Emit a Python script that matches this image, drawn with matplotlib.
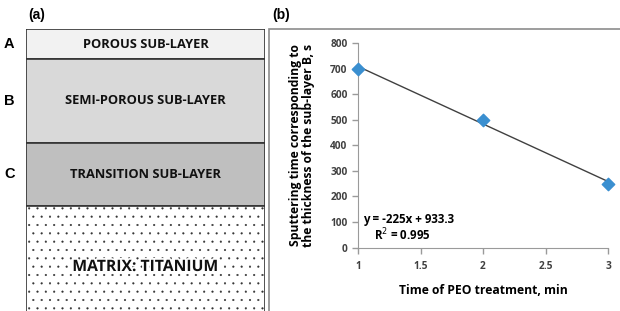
import numpy as np
import matplotlib
matplotlib.use("Agg")
import matplotlib.pyplot as plt
import matplotlib.patheffects as pe
from matplotlib.patches import Rectangle

# panel (a): layer stack, depth in arbitrary units (top = 0)
layer_names = ["POROUS SUB-LAYER", "SEMI-POROUS SUB-LAYER", "TRANSITION SUB-LAYER", "MATRIX: TITANIUM"]
layer_letters = ["A", "B", "C", ""]
layer_tops = [0, 30, 114, 177]
layer_bottoms = [30, 114, 177, 300]
layer_colors = ["#f2f2f2", "#d9d9d9", "#bfbfbf", "white"]

# panel (b): sputtering time vs PEO treatment time
peo_time = [1, 2, 3]
sputter_time = [700, 500, 250]
y_ticks = [0, 100, 200, 300, 400, 500, 600, 700, 800]
x_ticks = [1, 1.5, 2, 2.5, 3]

plt.rcParams["font.family"] = ["Open Sans", "DejaVu Sans"]
plt.rcParams["hatch.linewidth"] = 0.3
plt.rcParams["hatch.color"] = "#555555"

fig = plt.figure(figsize=(6.2, 3.11), dpi=100)

# ---- panel (a)
ax1 = fig.add_axes([26 / 620, 0, 239 / 620, 1 - 29 / 311])
ax1.set_xlim(0, 1)
ax1.set_ylim(282, 0)
for i in range(len(layer_names)):
    h = layer_bottoms[i] - layer_tops[i]
    ax1.add_patch(Rectangle((0, layer_tops[i]), 1, h, facecolor=layer_colors[i],
                            edgecolor="#333333", linewidth=1.2,
                            hatch=".." if i == 3 else None))
    mid = (layer_tops[i] + layer_bottoms[i]) / 2
    if i == 3:
        mid = 61 + layer_tops[i]
    t = ax1.text(0.5, mid, layer_names[i], ha="center", va="center", fontweight="bold",
                 fontsize=11.3 if i == 3 else 9.3, color="#111111")
    if i == 3:
        t.set_path_effects([pe.withStroke(linewidth=2.5, foreground="white")])
    if layer_letters[i]:
        ax1.text(-0.07, mid, layer_letters[i], ha="center", va="center",
                 fontweight="bold", fontsize=10.5, family="Liberation Sans")
ax1.axis("off")

fig.text(28 / 620, 1 - 15 / 311, "(a)", fontweight="bold", fontsize=10, va="center",
         family="Liberation Sans")
fig.text(272 / 620, 1 - 15 / 311, "(b)", fontweight="bold", fontsize=10, va="center",
         family="Liberation Sans")

# frame of panel (b)
fig.patches.append(Rectangle((269 / 620, -0.05), 0.6, 1 - 29 / 311 + 0.05,
                             transform=fig.transFigure, facecolor="none",
                             edgecolor="#8c8c8c", linewidth=1.2))

# ---- panel (b)
ax2 = fig.add_axes([358 / 620, 1 - 247.5 / 311, 250 / 620, 204.5 / 311])
ax2.scatter(peo_time, sputter_time, marker="D", s=40, color="#3a8fd0", zorder=3,
            clip_on=False)
k, b = np.polyfit(peo_time, sputter_time, 1)
xs = np.array([min(peo_time), max(peo_time)])
ax2.plot(xs, k * xs + b, color="#404040", linewidth=1.0, zorder=2)

ax2.set_xlim(1, 3)
ax2.set_ylim(0, 800)
ax2.set_xticks(x_ticks)
ax2.set_xticklabels(["1", "1.5", "2", "2.5", "3"])
ax2.set_yticks(y_ticks)
for s in ["top", "right"]:
    ax2.spines[s].set_visible(False)
for s in ["left", "bottom"]:
    ax2.spines[s].set_color("#9a9a9a")
ax2.tick_params(axis="both", colors="#9a9a9a", labelcolor="#404040", labelsize=7.3,
                length=4, width=1)
ax2.tick_params(axis="x", pad=6)
for lab in ax2.get_xticklabels() + ax2.get_yticklabels():
    lab.set_fontweight("bold")
ax2.set_xlabel("Time of PEO treatment, min", fontweight="bold", fontsize=8.7, labelpad=8)
ax2.set_ylabel("Sputtering time corresponding to\nthe thickness of the sub-layer B, s",
               fontweight="bold", fontsize=8.7, labelpad=11, linespacing=1.0)
ax2.text(1.04, 108, "y = -225x + 933.3", fontweight="bold", fontsize=8.3, va="center")
ax2.text(1.13, 47, "R$^2$ = 0.995", fontweight="bold", fontsize=8.3, va="center")

fig.savefig("out.png", dpi=100)
